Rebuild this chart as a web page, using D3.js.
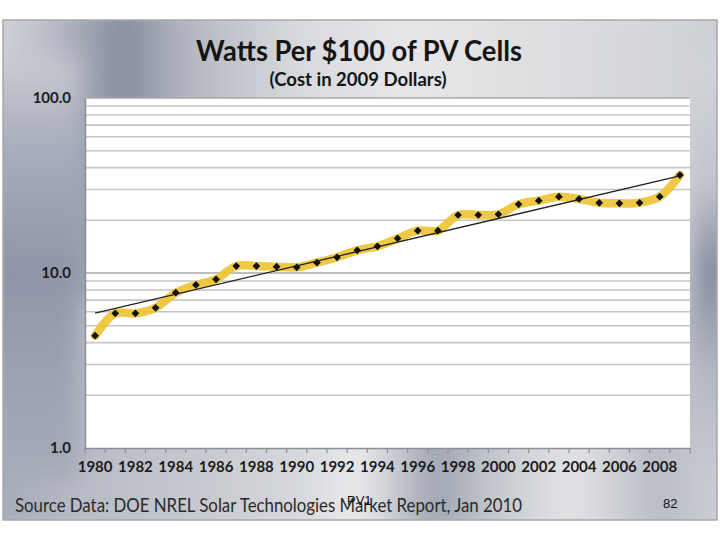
<!DOCTYPE html>
<html><head><meta charset="utf-8">
<script src="https://cdn.jsdelivr.net/npm/d3@7"></script>
<style>body{margin:0;background:#fff}svg{display:block}</style>
</head><body>
<svg id="c" width="720" height="540"></svg>
<script>
const years = d3.range(1980, 2010);
const wattsPer100 = [4.38,5.88,5.88,6.33,7.72,8.54,9.20,10.96,10.96,10.87,10.78,11.45,12.30,13.48,14.21,15.75,17.45,17.45,21.45,21.45,21.65,24.7,25.9,27.3,26.5,25.2,25.0,25.2,27.3,36.3];
const xTickLabels = d3.range(1980, 2010, 2);
const yTickLabels = [1, 10, 100];
const titleText = "Watts Per $100 of PV Cells";
const subtitleText = "(Cost in 2009 Dollars)";
const sourceText = "Source Data:  DOE NREL Solar Technologies  Market Report, Jan 2010";

const svg = d3.select("#c");
const defs = svg.append("defs");
function lg(id, horiz, stops){
  const g = defs.append("linearGradient").attr("id", id)
    .attr("x1",0).attr("y1",0).attr("x2",horiz?1:0).attr("y2",horiz?0:1);
  stops.forEach(s=>g.append("stop").attr("offset",s[0]).attr("stop-color",s[1]));
}
lg("gTop", true, [[0,"#d4d6dc"],[0.08,"#bfc3cc"],[0.19,"#868c9e"],[0.27,"#b2b6c0"],[0.42,"#d8dade"],[0.56,"#e6e6e8"],[0.7,"#e0e0e2"],[0.85,"#d6d8dc"],[1,"#cacdd2"]]);
lg("gBot", true, [[0,"#a2a8b6"],[0.14,"#b8bcc6"],[0.3,"#c8cad0"],[0.42,"#d6d8dc"],[0.5,"#eaeaec"],[0.6,"#9ea4b0"],[0.67,"#c2c6cc"],[0.78,"#e4e4e6"],[0.89,"#b8bcc4"],[1,"#d0d2d6"]]);
lg("gLeft", false, [[0,"#c8cbd2"],[0.2,"#a8aebb"],[0.5,"#8e95a8"],[0.75,"#9ca2b2"],[1,"#a6abb8"]]);
lg("gRight", false, [[0,"#d2d4d8"],[0.3,"#c0c3ca"],[0.5,"#868ca0"],[0.75,"#b4b8c2"],[1,"#c8cbd0"]]);
defs.append("filter").attr("id","blur").attr("x","-10%").attr("y","-10%").attr("width","120%").attr("height","120%")
  .append("feGaussianBlur").attr("stdDeviation",12);
defs.append("clipPath").attr("id","frameClip").append("rect").attr("x",3).attr("y",20).attr("width",714).attr("height",500);

const bg = svg.append("g").attr("clip-path","url(#frameClip)");
const bgb = bg.append("g").attr("filter","url(#blur)");
bgb.append("rect").attr("x",-20).attr("y",0).attr("width",760).attr("height",300).attr("fill","url(#gTop)");
bgb.append("rect").attr("x",-20).attr("y",300).attr("width",760).attr("height",240).attr("fill","url(#gBot)");
bgb.append("rect").attr("x",-20).attr("y",60).attr("width",100).attr("height",420).attr("fill","url(#gLeft)");
bgb.append("rect").attr("x",690).attr("y",60).attr("width",50).attr("height",420).attr("fill","url(#gRight)");
svg.append("rect").attr("x",3).attr("y",20).attr("width",714).attr("height",500)
  .attr("fill","none").attr("stroke","#a8a8a8").attr("stroke-width",1.5);

const L = 85, R = 690, T = 98, B = 448;
const x = d3.scaleBand().domain(years).range([L, R]);
const y = d3.scaleLog().domain([1, 100]).range([B, T]);

svg.append("rect").attr("x",L).attr("y",T).attr("width",R-L).attr("height",B-T).attr("fill","#ffffff");

// gridlines
const gridVals = [];
[1,10].forEach(d=>{ for(let k=2;k<=10;k++) gridVals.push(d*k); });
svg.append("g").selectAll("line").data(gridVals).join("line")
  .attr("x1",L).attr("x2",R).attr("y1",d=>y(d)).attr("y2",d=>y(d))
  .attr("stroke",d=>(d===10||d===100)?"#a8a8a8":"#c6c6c6").attr("stroke-width",1.6);

// y axis
const yAxis = d3.axisLeft(y).tickValues(yTickLabels).tickFormat(d3.format(".1f")).tickSize(0).tickPadding(14);
const ya = svg.append("g").attr("transform",`translate(${L},0)`).call(yAxis);
ya.select(".domain").attr("stroke","#8a8e98").attr("stroke-width",1.5);
ya.selectAll("text").attr("font-family","Lato, 'Open Sans', sans-serif").attr("font-weight","bold")
  .attr("font-size",15).attr("fill","#1c1c1c");

// x axis
const xAxis = d3.axisBottom(x).tickValues(xTickLabels).tickSize(0).tickPadding(13);
const xa = svg.append("g").attr("transform",`translate(0,${B})`).call(xAxis);
xa.select(".domain").attr("stroke","#8a8e98").attr("stroke-width",1.5);
xa.selectAll("text").attr("font-family","Lato, 'Open Sans', sans-serif").attr("font-weight","bold")
  .attr("font-size",15).attr("fill","#1c1c1c");
// category boundary ticks
svg.append("g").selectAll("line").data(years.concat([null])).join("line")
  .attr("x1",(d,i)=>L+i*x.bandwidth()).attr("x2",(d,i)=>L+i*x.bandwidth())
  .attr("y1",B).attr("y2",B+5).attr("stroke","#8a8e98").attr("stroke-width",1.2);

// data line
const pts = years.map((yr,i)=>({yr, v: wattsPer100[i]}));
const cx = d=>x(d.yr)+x.bandwidth()/2;
const line = d3.line().x(cx).y(d=>y(d.v)).curve(d3.curveCatmullRom.alpha(0.5));
svg.append("path").datum(pts).attr("d",line).attr("fill","none")
  .attr("stroke","#efc434").attr("stroke-width",8.5).attr("stroke-linejoin","round").attr("stroke-linecap","round").attr("opacity",0.92);

// exponential trend line (least squares on log values)
const n = pts.length;
const lx = pts.map((d,i)=>i), ly = pts.map(d=>Math.log10(d.v));
const mx = d3.mean(lx), my = d3.mean(ly);
const slope = d3.sum(lx.map((v,i)=>(v-mx)*(ly[i]-my))) / d3.sum(lx.map(v=>(v-mx)*(v-mx)));
const icpt = my - slope*mx;
const trend = [0, n-1].map(i=>({yr: years[i], v: Math.pow(10, icpt + slope*i)}));
svg.append("path").datum(trend).attr("d", d3.line().x(cx).y(d=>y(d.v)))
  .attr("fill","none").attr("stroke","#222").attr("stroke-width",1.3);

// markers (square diamonds)
svg.append("g").selectAll("path").data(pts).join("path")
  .attr("d", d3.symbol().type(d3.symbolSquare).size(30))
  .attr("transform", d=>`translate(${cx(d)},${y(d.v)}) rotate(45)`)
  .attr("fill","#111");

// titles
svg.append("text").attr("x",359).attr("y",61).attr("text-anchor","middle")
  .attr("font-family","Lato, 'Open Sans', sans-serif").attr("font-weight","bold").attr("font-size",28)
  .attr("fill","#151515").attr("textLength",326).attr("lengthAdjust","spacingAndGlyphs").text(titleText);
svg.append("text").attr("x",358).attr("y",86).attr("text-anchor","middle")
  .attr("font-family","Lato, 'Open Sans', sans-serif").attr("font-weight","bold").attr("font-size",18)
  .attr("fill","#151515").attr("textLength",177).attr("lengthAdjust","spacingAndGlyphs").text(subtitleText);
svg.append("text").attr("x",15).attr("y",512)
  .attr("font-family","Lato, 'Open Sans', sans-serif").attr("font-size",19)
  .attr("fill","#2a2a2a").attr("textLength",507).attr("lengthAdjust","spacingAndGlyphs").text(sourceText);
svg.append("text").attr("x",347).attr("y",505)
  .attr("font-family","'Liberation Sans', Arial, sans-serif").attr("font-size",13).attr("fill","#111").text("PV1");
svg.append("text").attr("x",663).attr("y",508)
  .attr("font-family","'Liberation Sans', Arial, sans-serif").attr("font-size",13).attr("fill","#111").text("82");
</script>
</body></html>
